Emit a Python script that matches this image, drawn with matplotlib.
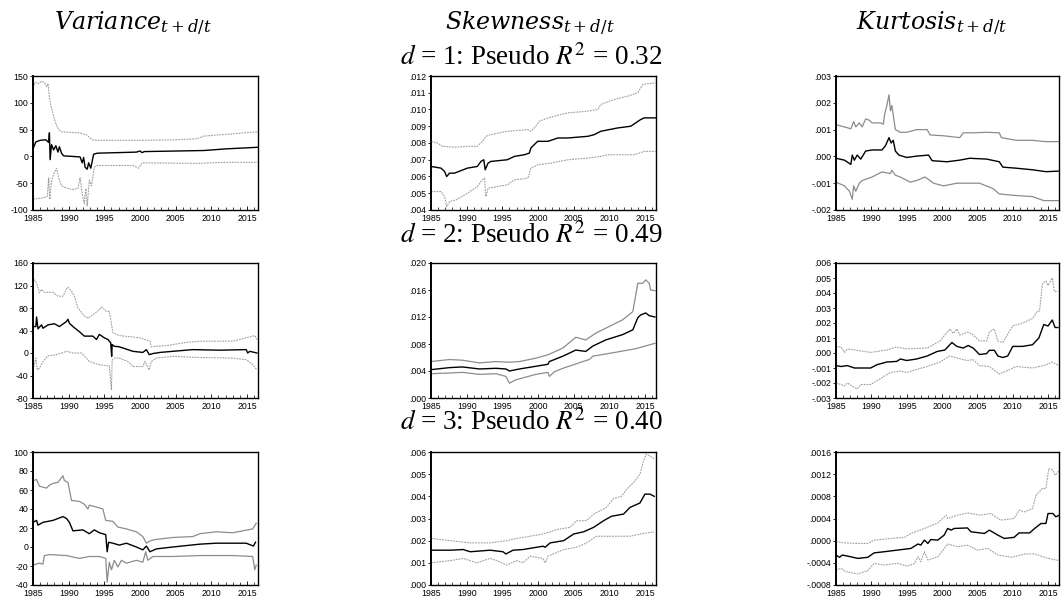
import matplotlib
matplotlib.use("Agg")
import matplotlib.pyplot as plt
from matplotlib.ticker import FixedLocator, MultipleLocator

# ---- data (year, value) ----
var1_mid = [(1985.0, 14), (1985.4, 27), (1986.0, 30), (1986.8, 31), (1987.2, 26), (1987.3, 44), (1987.4, -6),
            (1987.6, 22), (1987.9, 12), (1988.2, 20), (1988.5, 8), (1988.7, 18), (1989.0, 6), (1989.3, 1),
            (1990.5, 0), (1991.6, -1), (1991.9, -12), (1992.1, -2), (1992.3, -20), (1992.6, -24), (1992.8, -12),
            (1993.1, -22), (1993.5, 4), (1994.0, 6), (1999.5, 8), (2000.0, 10), (2000.3, 7), (2000.6, 9),
            (2005.0, 10), (2009.0, 11), (2012.0, 14), (2016.5, 17)]
var1_up = [(1985.0, 128), (1985.3, 138), (1985.8, 136), (1986.2, 140), (1986.6, 138), (1986.9, 130), (1987.1, 136),
           (1987.3, 110), (1987.5, 95), (1987.8, 80), (1988.0, 70), (1988.3, 58), (1988.6, 50), (1989.0, 46),
           (1990.0, 45), (1991.5, 44), (1992.5, 40), (1993.3, 31), (1994.0, 30), (2000.0, 30), (2005.0, 31),
           (2008.0, 33), (2009.0, 38), (2012.0, 41), (2016.5, 46)]
var1_lo = [(1985.0, -80), (1986.5, -77), (1987.0, -75), (1987.2, -40), (1987.35, -80), (1987.6, -45), (1988.0, -30),
           (1988.3, -22), (1988.6, -40), (1989.0, -55), (1989.5, -58), (1990.5, -62), (1991.3, -60), (1991.6, -40),
           (1991.9, -70), (1992.2, -88), (1992.4, -60), (1992.6, -92), (1992.9, -45), (1993.2, -55), (1993.6, -20),
           (1994.0, -17), (1999.0, -17), (1999.8, -22), (2000.3, -12), (2008.0, -13), (2012.0, -11), (2016.5, -11)]

skew1_mid = [(1985.0, .0066), (1986.4, .0065), (1986.9, .0063), (1987.2, .0060), (1987.6, .0062), (1988.3, .0062),
             (1990.1, .0065), (1991.5, .0066), (1992.0, .0069), (1992.4, .0070), (1992.6, .0064), (1992.9, .0067),
             (1993.0, .0068), (1993.4, .0069), (1995.7, .0070), (1996.7, .0072), (1998.1, .0073), (1998.8, .0074),
             (1999.0, .0077), (1999.95, .0081), (2001.4, .0081), (2002.8, .0083), (2004.2, .0083), (2007.0, .0084),
             (2007.9, .0085), (2008.8, .0087), (2011.2, .0089), (2013.0, .0090), (2014.4, .0094), (2014.9, .0095),
             (2016.5, .0095)]
skew1_up = [(1985.0, .0081), (1985.9, .0080), (1986.6, .0078), (1988.3, .00775), (1990.1, .0078), (1991.5, .0078),
            (1992.2, .0081), (1992.7, .0084), (1993.4, .0085), (1995.7, .0087), (1998.6, .0088), (1999.0, .0087),
            (1999.5, .0089), (2000.2, .0093), (2001.4, .0095), (2003.2, .0097), (2004.2, .0098), (2007.0, .0099),
            (2008.4, .0100), (2008.8, .0103), (2010.7, .0106), (2012.6, .0108), (2014.0, .0110), (2014.7, .0115),
            (2016.5, .0116)]
skew1_lo = [(1985.0, .0051), (1986.4, .0051), (1986.9, .0048), (1987.2, .0042), (1987.6, .0045), (1988.5, .0046),
            (1990.1, .0050), (1991.5, .0054), (1992.2, .0058), (1992.5, .0059), (1992.7, .0048), (1993.0, .0053),
            (1994.3, .0054), (1995.7, .0055), (1996.7, .0058), (1998.6, .0059), (1999.0, .0065), (2000.0, .0067),
            (2001.8, .0068), (2004.2, .0070), (2007.0, .0071), (2008.8, .0072), (2009.8, .0073), (2013.5, .0073),
            (2014.9, .0075), (2016.5, .0075)]

kurt1_mid = [(1985.0, -.00007), (1986.2, -.00014), (1987.1, -.0003), (1987.3, .00005), (1987.6, -.00014),
             (1988.0, .00005), (1988.5, -.0001), (1989.2, .0002), (1990.1, .00024), (1991.5, .00024),
             (1992.0, .0004), (1992.5, .0007), (1992.8, .0005), (1993.1, .0006), (1993.4, .0002), (1993.9, .00005),
             (1995.0, -.00004), (1996.4, .00001), (1998.1, .00005), (1998.6, -.00016), (2000.7, -.0002),
             (2002.5, -.00014), (2003.9, -.00007), (2006.3, -.0001), (2008.1, -.0002), (2008.6, -.0004),
             (2010.5, -.00044), (2012.8, -.0005), (2014.7, -.00057), (2016.5, -.00055)]
kurt1_up = [(1985.0, .00118), (1986.2, .0011), (1987.1, .00103), (1987.5, .0013), (1987.8, .0011), (1988.3, .00125),
            (1988.7, .0011), (1989.2, .0014), (1989.7, .00135), (1990.1, .00125), (1991.3, .00125), (1991.7, .0012),
            (1991.9, .0016), (1992.2, .0019), (1992.5, .0023), (1992.7, .0017), (1992.9, .0019), (1993.4, .0010),
            (1994.1, .0009), (1995.0, .0009), (1996.4, .0010), (1997.9, .0010), (1998.3, .0008), (2000.2, .00077),
            (2002.5, .0007), (2003.0, .00088), (2004.4, .00088), (2006.3, .0009), (2008.1, .00088), (2008.4, .0007),
            (2010.5, .0006), (2012.8, .0006), (2014.7, .00055), (2016.5, .00055)]
kurt1_lo = [(1985.0, -.00096), (1986.2, -.0011), (1986.9, -.0013), (1987.3, -.0016), (1987.5, -.0011),
            (1987.8, -.0013), (1988.3, -.0010), (1988.7, -.0009), (1990.1, -.00077), (1991.5, -.00058),
            (1992.7, -.00064), (1992.9, -.00052), (1993.4, -.0007), (1994.1, -.00077), (1995.5, -.00096),
            (1996.4, -.0009), (1997.6, -.00077), (1998.3, -.0009), (1998.8, -.0010), (2000.2, -.0011),
            (2002.1, -.0010), (2005.3, -.0010), (2007.2, -.0012), (2008.1, -.0014), (2010.0, -.00145),
            (2012.8, -.0015), (2014.4, -.00165), (2016.5, -.00165)]

var2_mid = [(1985.0, 47), (1985.4, 47), (1985.5, 64), (1985.7, 43), (1986.2, 50), (1986.4, 44), (1987.1, 50),
            (1988.0, 52), (1988.7, 47), (1989.7, 56), (1989.9, 60), (1990.1, 53), (1990.6, 47), (1991.5, 38),
            (1992.2, 30), (1993.4, 30), (1993.9, 24), (1994.3, 33), (1995.0, 27), (1995.5, 24), (1995.9, 18),
            (1996.03, -6), (1996.1, 15), (1996.4, 12), (1997.1, 11), (1999.0, 3), (2000.4, 1), (2000.9, 6),
            (2001.3, -3), (2001.8, -1), (2002.8, 1), (2004.6, 3), (2007.4, 6), (2011.2, 5), (2014.9, 6),
            (2015.1, 0), (2015.4, 3), (2016.4, 0)]
var2_up = [(1985.0, 124), (1985.2, 130), (1985.5, 124), (1985.9, 107), (1986.2, 113), (1986.6, 108), (1987.8, 108),
           (1988.5, 101), (1989.2, 101), (1989.7, 114), (1989.9, 117), (1990.4, 110), (1990.8, 101), (1991.3, 80),
           (1992.2, 66), (1992.7, 62), (1993.4, 68), (1994.3, 77), (1994.6, 82), (1995.3, 74), (1995.7, 74),
           (1996.2, 36), (1997.1, 31), (2000.0, 27), (2001.4, 21), (2001.6, 11), (2002.3, 12), (2003.7, 13),
           (2006.5, 19), (2008.4, 21), (2013.0, 21), (2014.9, 27), (2016.1, 31), (2016.4, 24)]
var2_lo = [(1985.0, -30), (1985.4, -9), (1985.6, -30), (1985.9, -27), (1986.4, -15), (1987.1, -5), (1988.3, -3),
           (1989.7, 3), (1990.6, 0), (1991.8, 0), (1992.9, -15), (1994.3, -21), (1995.7, -23), (1996.0, -65),
           (1996.1, -13), (1996.4, -9), (1997.1, -9), (1998.3, -15), (1999.0, -24), (2000.4, -24), (2000.7, -15),
           (2001.3, -30), (2001.6, -15), (2002.3, -9), (2004.6, -6), (2008.4, -8), (2013.0, -9), (2014.9, -12),
           (2015.6, -18), (2016.4, -30)]

skew2_mid = [(1985.0, .0042), (1987.6, .0045), (1989.4, .0046), (1991.8, .0043), (1994.1, .0044), (1995.5, .0043),
             (1996.0, .0040), (1997.4, .0043), (1999.7, .0047), (2001.4, .0050), (2001.6, .0054), (2003.5, .0062),
             (2005.3, .0071), (2006.7, .0069), (2007.7, .0077), (2009.5, .0086), (2011.9, .0094), (2013.3, .0101),
             (2014.0, .0119), (2014.4, .0123), (2015.1, .0126), (2015.6, .0122), (2016.4, .0120)]
skew2_up = [(1985.0, .0054), (1987.6, .0057), (1989.4, .0056), (1991.8, .0052), (1994.1, .0054), (1996.0, .0053),
            (1997.4, .0054), (1999.7, .0059), (2001.4, .0064), (2003.5, .0074), (2005.3, .0090), (2006.7, .0086),
            (2008.1, .0096), (2010.0, .0106), (2011.9, .0116), (2013.3, .0128), (2014.0, .0170), (2014.7, .0170),
            (2015.1, .0175), (2015.6, .0170), (2015.8, .0160), (2016.4, .0159)]
skew2_lo = [(1985.0, .0036), (1987.6, .0037), (1989.4, .0038), (1991.8, .0035), (1994.1, .0036), (1995.5, .0032),
            (1996.0, .0022), (1996.9, .0027), (1999.7, .0035), (2001.4, .0038), (2001.6, .0032), (2002.3, .0039),
            (2003.5, .0044), (2006.3, .0054), (2007.2, .0057), (2007.7, .0062), (2010.5, .0067), (2013.7, .0073),
            (2016.4, .0081)]

kurt2_mid = [(1985.0, -.00084), (1985.7, -.0009), (1986.6, -.00084), (1987.6, -.0010), (1989.9, -.0010),
             (1990.8, -.00078), (1992.2, -.0006), (1993.6, -.00056), (1994.1, -.0004), (1995.0, -.0005),
             (1996.4, -.0004), (1997.9, -.0002), (1999.3, .0001), (2000.4, .0002), (2001.4, .0007),
             (2002.1, .00044), (2003.0, .00033), (2003.7, .0005), (2004.4, .00033), (2005.3, -.0001),
             (2006.3, -.00004), (2006.7, .00018), (2007.4, .00018), (2007.9, -.0002), (2008.6, -.0003),
             (2009.3, -.0002), (2010.0, .00044), (2011.4, .00044), (2012.8, .00055), (2013.5, .0009),
             (2013.7, .0010), (2014.4, .0019), (2015.0, .0018), (2015.6, .0022), (2016.0, .0017), (2016.4, .0017)]
kurt2_up = [(1985.0, .00044), (1985.7, .0004), (1986.2, .00004), (1986.6, .00027), (1989.9, .00004), (1992.2, .0002),
            (1993.6, .0004), (1995.0, .00027), (1997.9, .00033), (1999.7, .0008), (2001.1, .0016), (2001.6, .0013),
            (2002.1, .0016), (2002.5, .0012), (2003.7, .0014), (2004.4, .0012), (2005.3, .0008), (2006.3, .0008),
            (2006.7, .0014), (2007.4, .0016), (2007.9, .0008), (2008.6, .0007), (2009.1, .0011), (2010.0, .0018),
            (2011.4, .0020), (2012.8, .0023), (2013.5, .0028), (2013.8, .0028), (2014.2, .0046), (2014.7, .0048),
            (2015.0, .0045), (2015.6, .0050), (2015.9, .0041), (2016.4, .0041)]
kurt2_lo = [(1985.0, -.0020), (1985.7, -.0021), (1986.2, -.0022), (1986.6, -.0020), (1987.3, -.0022),
            (1988.0, -.0024), (1988.5, -.0021), (1989.9, -.0021), (1991.3, -.0017), (1992.7, -.0013),
            (1994.1, -.0012), (1995.0, -.0013), (1996.4, -.0011), (1997.9, -.0009), (1999.7, -.0006),
            (2001.1, -.0002), (2003.5, -.0005), (2004.4, -.00044), (2005.3, -.00084), (2006.7, -.0009),
            (2008.1, -.0014), (2009.1, -.0012), (2010.5, -.0009), (2012.8, -.0010), (2014.7, -.0008),
            (2015.6, -.0006), (2016.4, -.0008)]

var3_mid = [(1985.0, 26), (1985.5, 28), (1985.7, 23), (1986.4, 26), (1987.8, 28), (1989.2, 32), (1989.7, 30),
            (1990.1, 26), (1990.6, 17), (1992.0, 18), (1992.9, 14), (1993.6, 18), (1994.3, 15), (1995.2, 13),
            (1995.4, -5), (1995.6, 5), (1996.2, 4), (1997.1, 2), (1998.1, 4), (1999.5, 0), (2000.4, -3),
            (2000.9, 1), (2001.4, -5), (2002.3, -2), (2004.6, 0), (2008.4, 3), (2010.7, 4), (2013.0, 4),
            (2014.9, 4), (2015.9, 1), (2016.2, 5)]
var3_up = [(1985.0, 70), (1985.5, 71), (1985.9, 64), (1986.9, 62), (1987.3, 65), (1987.8, 67), (1988.5, 68),
           (1989.0, 73), (1989.2, 75), (1989.4, 70), (1989.9, 68), (1990.4, 49), (1991.5, 48), (1992.2, 45),
           (1992.7, 40), (1992.9, 44), (1993.9, 42), (1994.8, 40), (1995.2, 28), (1996.2, 27), (1996.9, 21),
           (1998.1, 19), (1999.5, 16), (2000.4, 11), (2000.9, 4), (2001.6, 7), (2002.3, 8), (2004.6, 10),
           (2007.4, 11), (2008.4, 14), (2010.7, 16), (2013.0, 15), (2014.4, 17), (2015.8, 19), (2016.3, 25)]
var3_lo = [(1985.0, -19), (1985.9, -17), (1986.4, -18), (1986.6, -9), (1987.3, -8), (1989.7, -9), (1991.5, -12),
           (1992.9, -10), (1994.3, -10), (1995.2, -12), (1995.4, -37), (1995.7, -16), (1996.0, -24), (1996.4, -14),
           (1996.9, -21), (1997.4, -14), (1998.1, -17), (1999.5, -14), (2000.4, -16), (2000.8, -5), (2001.1, -14),
           (2001.8, -10), (2004.6, -10), (2008.4, -9), (2013.0, -9), (2015.8, -10), (2016.1, -24), (2016.3, -19)]

skew3_mid = [(1985.0, .00157), (1987.7, .00157), (1989.5, .0016), (1990.5, .0015), (1993.3, .00157),
             (1995.1, .0015), (1995.5, .0014), (1996.5, .00157), (1997.9, .0016), (2000.7, .00175),
             (2001.0, .0017), (2001.7, .0019), (2003.6, .0020), (2005.0, .0023), (2006.4, .0024), (2007.8, .0026),
             (2009.2, .0029), (2010.3, .0031), (2012.0, .0032), (2012.9, .0035), (2014.3, .0037), (2015.0, .0041),
             (2015.7, .0041), (2016.3, .0040)]
skew3_up = [(1985.0, .0021), (1987.7, .0020), (1990.5, .0019), (1993.3, .0019), (1995.6, .0020), (1997.0, .0021),
            (1998.9, .0022), (2000.7, .0023), (2002.6, .0025), (2004.5, .0026), (2005.4, .0029), (2006.8, .0029),
            (2007.8, .0032), (2009.6, .0035), (2010.6, .0039), (2011.7, .0040), (2012.4, .0043), (2013.6, .0047),
            (2014.3, .0050), (2014.8, .0056), (2015.2, .0059), (2015.8, .0058), (2016.3, .0057)]
skew3_lo = [(1985.0, .0010), (1987.7, .0011), (1989.5, .0012), (1991.4, .0010), (1993.3, .0012), (1994.2, .0011),
            (1995.6, .0009), (1997.0, .0011), (1997.9, .0010), (1998.9, .0013), (2000.7, .0012), (2001.0, .0010),
            (2001.4, .0013), (2003.6, .0016), (2005.4, .0017), (2006.8, .0019), (2008.2, .0022), (2010.6, .0022),
            (2012.9, .0022), (2014.3, .0023), (2016.3, .0024)]

kurt3_mid = [(1985.0, -.00026), (1985.5, -.0003), (1985.9, -.00026), (1986.7, -.00028), (1988.1, -.00032),
             (1989.5, -.0003), (1990.4, -.00022), (1991.8, -.0002), (1993.7, -.00017), (1995.6, -.00014),
             (1996.6, -.00006), (1997.0, -.00008), (1997.5, .00001), (1998.0, -.00005), (1998.4, .00002),
             (1999.4, .00001), (2000.3, .0001), (2000.8, .00022), (2001.3, .00019), (2001.7, .00022),
             (2003.6, .00023), (2004.1, .00016), (2006.0, .00013), (2006.7, .00019), (2007.9, .0001),
             (2008.8, .00004), (2010.2, .00006), (2010.9, .00014), (2012.4, .00014), (2013.1, .00022),
             (2014.0, .00031), (2014.7, .00031), (2015.0, .00049), (2015.7, .00049), (2016.1, .00043),
             (2016.6, .00046)]
kurt3_up = [(1985.0, -.00002), (1986.2, -.00004), (1988.1, -.00005), (1989.5, -.00005), (1990.4, .00001),
            (1992.8, .00004), (1994.7, .00006), (1995.6, .00013), (1997.5, .00022), (1999.4, .00032),
            (2000.6, .00046), (2000.8, .0004), (2002.2, .00046), (2003.6, .0005), (2005.5, .00046),
            (2006.9, .00049), (2008.3, .00037), (2010.2, .0004), (2010.9, .00055), (2011.7, .00052),
            (2012.8, .00058), (2013.3, .00082), (2014.2, .00094), (2014.7, .00094), (2015.1, .0013),
            (2015.7, .00127), (2016.0, .00118), (2016.6, .00127)]
kurt3_lo = [(1985.0, -.00053), (1985.7, -.0005), (1986.4, -.00056), (1988.1, -.0006), (1989.5, -.00054),
            (1990.4, -.00041), (1991.8, -.00044), (1993.7, -.00041), (1995.1, -.00046), (1996.1, -.00041),
            (1996.6, -.00029), (1997.0, -.00038), (1997.5, -.0002), (1998.0, -.00035), (1999.4, -.00029),
            (2000.8, -.00006), (2002.2, -.00011), (2003.6, -.00008), (2005.0, -.00017), (2006.5, -.00014),
            (2007.9, -.00026), (2009.8, -.0003), (2011.7, -.00024), (2013.1, -.00024), (2015.0, -.00032),
            (2016.6, -.00036)]

col_titles = [r"$Variance_{t+d/t}$", r"$Skewness_{t+d/t}$", r"$Kurtosis_{t+d/t}$"]
row_labels = [r"$d$ = 1: Pseudo $R^2$ = 0.32", r"$d$ = 2: Pseudo $R^2$ = 0.49", r"$d$ = 3: Pseudo $R^2$ = 0.40"]

yticks = [
    [[-100, -50, 0, 50, 100, 150], ["-100", "-50", "0", "50", "100", "150"]],
    [[.004, .005, .006, .007, .008, .009, .010, .011, .012],
     [".004", ".005", ".006", ".007", ".008", ".009", ".010", ".011", ".012"]],
    [[-.002, -.001, 0, .001, .002, .003], ["-.002", "-.001", ".000", ".001", ".002", ".003"]],
    [[-80, -40, 0, 40, 80, 120, 160], ["-80", "-40", "0", "40", "80", "120", "160"]],
    [[0, .004, .008, .012, .016, .020], [".000", ".004", ".008", ".012", ".016", ".020"]],
    [[-.003, -.002, -.001, 0, .001, .002, .003, .004, .005, .006],
     ["-.003", "-.002", "-.001", ".000", ".001", ".002", ".003", ".004", ".005", ".006"]],
    [[-40, -20, 0, 20, 40, 60, 80, 100], ["-40", "-20", "0", "20", "40", "60", "80", "100"]],
    [[0, .001, .002, .003, .004, .005, .006], [".000", ".001", ".002", ".003", ".004", ".005", ".006"]],
    [[-.0008, -.0004, 0, .0004, .0008, .0012, .0016],
     ["-.0008", "-.0004", ".0000", ".0004", ".0008", ".0012", ".0016"]],
]
years = [1985, 1990, 1995, 2000, 2005, 2010, 2015]

panels = [
    (var1_mid, var1_up, var1_lo, "dot"), (skew1_mid, skew1_up, skew1_lo, "dot"), (kurt1_mid, kurt1_up, kurt1_lo, "solid"),
    (var2_mid, var2_up, var2_lo, "dot"), (skew2_mid, skew2_up, skew2_lo, "solid"), (kurt2_mid, kurt2_up, kurt2_lo, "dot"),
    (var3_mid, var3_up, var3_lo, "solid"), (skew3_mid, skew3_up, skew3_lo, "dot"), (kurt3_mid, kurt3_up, kurt3_lo, "dot"),
]

W, H = 1061, 610
col_left = [33, 431, 836]
col_w = [225, 225, 223]
row_top = [76, 263, 452]
row_bot = [210, 398, 585]

plt.rcParams["font.family"] = ["Liberation Sans", "DejaVu Sans"]
fig = plt.figure(figsize=(W / 100, H / 100), dpi=100)

for i, (mid, up, lo, style) in enumerate(panels):
    r, c = divmod(i, 3)
    ax = fig.add_axes([col_left[c] / W, 1 - row_bot[r] / H, col_w[c] / W, (row_bot[r] - row_top[r]) / H])
    for band in (up, lo):
        xs = [p[0] for p in band]
        ys = [p[1] for p in band]
        if style == "dot":
            ax.plot(xs, ys, color="#a0a0a0", lw=0.8, linestyle=(0, (1.6, 0.9)))
        else:
            ax.plot(xs, ys, color="#8c8c8c", lw=0.9)
    ax.plot([p[0] for p in mid], [p[1] for p in mid], color="black", lw=1.0)

    vals, labs = yticks[i]
    ax.set_ylim(vals[0], vals[-1])
    ax.set_xlim(1985, 2016.55)
    ax.yaxis.set_major_locator(FixedLocator(vals))
    ax.set_yticklabels(labs)
    ax.set_xticks(years)
    ax.set_xticklabels([str(y) for y in years])
    ax.xaxis.set_minor_locator(MultipleLocator(1))
    ax.tick_params(axis="y", direction="out", length=2.5, width=0.6, pad=1, labelsize=6.3)
    ax.tick_params(axis="x", which="major", direction="in", length=3, width=0.6, pad=3, labelsize=6.3)
    ax.tick_params(axis="x", which="minor", direction="in", length=2, width=0.5)
    for s in ax.spines.values():
        s.set_linewidth(1.0)
    ax.spines["left"].set_linewidth(1.4)

title_x = [133, 530, 932]
for c in range(3):
    fig.text(title_x[c] / W, 1 - 24 / H, col_titles[c], ha="center", va="center", fontsize=17,
             math_fontfamily="dejavuserif")

label_base = [65, 243, 430]
for r in range(3):
    fig.text(531 / W, 1 - label_base[r] / H, row_labels[r], ha="center", va="baseline", fontsize=19.5,
             family="Liberation Serif", math_fontfamily="stix")

fig.savefig("out.png", dpi=100)
